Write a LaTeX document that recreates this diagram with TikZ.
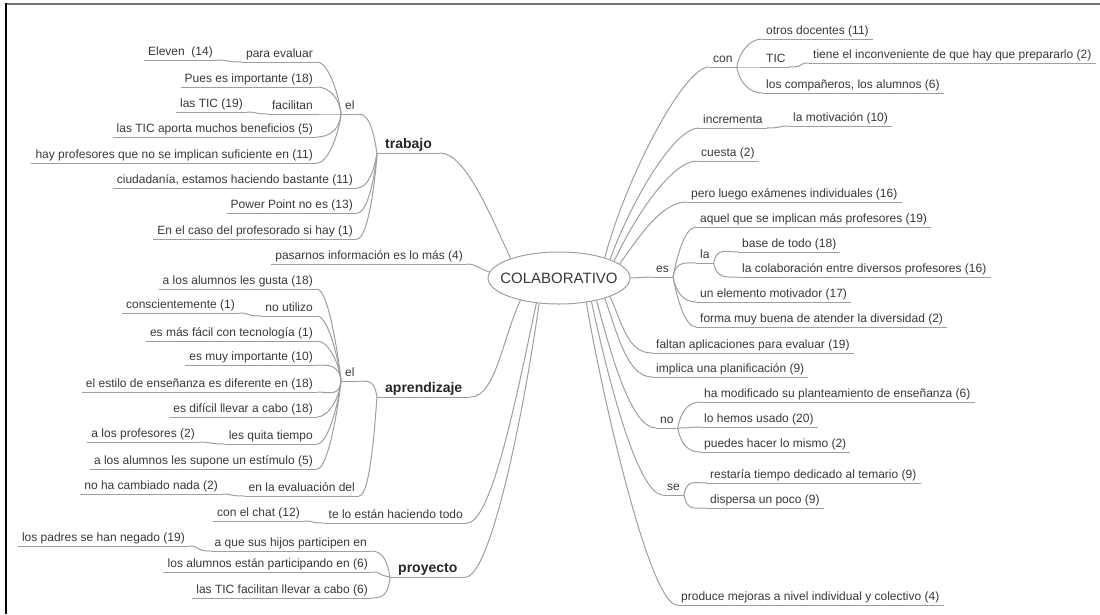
\documentclass[tikz,border=0pt]{standalone}
\usepackage{fontspec}
\setmainfont{Liberation Sans}
\usepackage{tikz}
\usetikzlibrary{shapes.geometric}

\definecolor{txtgray}{HTML}{383838}
\definecolor{linegray}{HTML}{9E9E9E}

\tikzset{
	txt/.style={inner xsep=4pt, inner ysep=1pt, text height=9pt, text depth=3pt, text=txtgray, font=\fontsize{12}{14}\selectfont},
	lft/.style={txt, anchor=south east},
	rgt/.style={txt, anchor=south west},
	topic/.style={txt, anchor=south west, inner xsep=8pt, text height=11pt, text=black!85, font=\fontsize{14}{16}\selectfont\bfseries},
	ln/.style={draw=linegray, line width=1pt},
	arm/.style={in distance=25pt},
	brl/.style={in=0, out distance=16pt, in distance=12pt},
	brr/.style={in=180, out distance=16pt, in distance=12pt},
}

\begin{document}
\begin{tikzpicture}[x=1pt, y=1pt]
			%%%%% START %%%%%
			\useasboundingbox (0,0) rectangle (1100,-614);
			\draw[line width=2pt, color=black!55] (6,-4) -- (1100,-4);
			\draw[line width=2pt, color=black] (6,-3) -- (6,-614);
			
			\node[ellipse, draw=linegray, line width=1pt, minimum width=142pt, minimum height=52pt, inner xsep=-9pt, inner ysep=0pt, text=txtgray, font=\fontsize{15}{17}\selectfont] (co) at (559,-278) {COLABORATIVO};
			
			% trabajo
			\node[topic] (tr) at (377,-153) {trabajo};
			\node[rgt] (el1) at (341,-114) {el};
			\node[lft] (pe) at (317,-62) {para evaluar};
			\node[lft] (ev1) at (217,-60) {Eleven\ \ (14)};
			\node[lft] (pu) at (317,-87) {Pues es importante (18)};
			\node[lft] (fa) at (317,-114) {facilitan};
			\node[lft] (lt) at (247,-112) {las TIC (19)};
			\node[lft] (ab) at (317,-137) {las TIC aporta muchos beneficios (5)};
			\node[lft] (hp) at (317,-163) {hay profesores que no se implican suficiente en (11)};
			\node[lft] (ci) at (357,-188) {ciudadanía, estamos haciendo bastante (11)};
			\node[lft] (pp) at (357,-213) {Power Point no es (13)};
			\node[lft] (ec) at (357,-239) {En el caso del profesorado si hay (1)};
			
			\node[lft] (pa) at (467,-264) {pasarnos información es lo más (4)};
			
			% aprendizaje
			\node[topic] (apz) at (377,-397) {aprendizaje};
			\node[rgt] (el2) at (341,-381) {el};
			\node[lft] (ag) at (317,-289) {a los alumnos les gusta (18)};
			\node[lft] (nu) at (317,-316) {no utilizo};
			\node[lft] (cs) at (239,-313) {conscientemente (1)};
			\node[lft] (ef) at (317,-341) {es más fácil con tecnología (1)};
			\node[lft] (mi) at (317,-365) {es muy importante (10)};
			\node[lft] (ee) at (317,-392) {el estilo de enseñanza es diferente en (18)};
			\node[lft] (ed) at (317,-417) {es difícil llevar a cabo (18)};
			\node[lft] (lq) at (317,-444) {les quita tiempo};
			\node[lft] (lp) at (199,-442) {a los profesores (2)};
			\node[lft] (as) at (317,-469) {a los alumnos les supone un estímulo (5)};
			\node[lft] (ev) at (359,-496) {en la evaluación del};
			\node[lft] (nc) at (222,-494) {no ha cambiado nada (2)};
			
			\node[lft] (te) at (467,-523) {te lo están haciendo todo};
			\node[lft] (ch) at (304,-521) {con el chat (12)};
			
			% proyecto
			\node[topic] (pr) at (390,-577) {proyecto};
			\node[lft] (aq) at (371,-551) {a que sus hijos participen en};
			\node[lft] (lpn) at (189,-546) {los padres se han negado (19)};
			\node[lft] (lap) at (372,-572) {los alumnos están participando en (6)};
			\node[lft] (lf) at (372,-598) {las TIC facilitan llevar a cabo (6)};
			
			% right side
			\node[rgt] (con) at (709,-67) {con};
			\node[rgt] (od) at (762,-39) {otros docentes (11)};
			\node[rgt] (ti) at (762,-67) {TIC};
			\node[rgt] (tn) at (809,-63) {tiene el inconveniente de que hay que prepararlo (2)};
			\node[rgt] (cp) at (762,-93) {los compañeros, los alumnos (6)};
			\node[rgt] (inc) at (699,-128) {incrementa};
			\node[rgt] (mo) at (789,-126) {la motivación (10)};
			\node[rgt] (cu) at (697,-161) {cuesta (2)};
			\node[rgt] (pl) at (687,-202) {pero luego exámenes individuales (16)};
			\node[rgt] (es) at (652,-277) {es};
			\node[rgt] (aqu) at (696,-227) {aquel que se implican más profesores (19)};
			\node[rgt] (la) at (696,-263) {la};
			\node[rgt] (bt) at (738,-252) {base de todo (18)};
			\node[rgt] (lc) at (738,-277) {la colaboración entre diversos profesores (16)};
			\node[rgt] (um) at (696,-302) {un elemento motivador (17)};
			\node[rgt] (fm) at (696,-327) {forma muy buena de atender la diversidad (2)};
			\node[rgt] (fap) at (652,-353) {faltan aplicaciones para evaluar (19)};
			\node[rgt] (ip) at (652,-377) {implica una planificación (9)};
			\node[rgt] (no) at (656,-428) {no};
			\node[rgt] (hm) at (700,-402) {ha modificado su planteamiento de enseñanza (6)};
			\node[rgt] (lh) at (700,-427) {lo hemos usado (20)};
			\node[rgt] (ph) at (700,-452) {puedes hacer lo mismo (2)};
			\node[rgt] (se) at (663,-495) {se};
			\node[rgt] (re) at (706,-483) {restaría tiempo dedicado al temario (9)};
			\node[rgt] (di) at (706,-508) {dispersa un poco (9)};
			\node[rgt] (pm) at (677,-605) {produce mejoras a nivel individual y colectivo (4)};
			
			% underlines
			\foreach \n in {tr,el1,pe,ev1,pu,fa,lt,ab,hp,ci,pp,ec,pa,apz,el2,ag,nu,cs,ef,mi,ee,ed,lq,lp,as,ev,nc,te,ch,pr,aq,lpn,lap,lf,
				con,od,ti,tn,cp,inc,mo,cu,pl,es,aqu,la,bt,lc,um,fm,fap,ip,no,hm,lh,ph,se,re,di,pm}
				\draw[ln] (\n.south west) -- (\n.south east);
			
			% arms from the centre
			\draw[ln] (co.158) to[arm, out=115, in=0] (tr.south east);
			\draw[ln] (co.175) to[out=165, in=0] (pa.south east);
			\draw[ln] (co.-150) to[arm, out=-115, in=0] (apz.south east);
			\draw[ln] (co.-132) to[arm, out=-102, in=0] (te.south east);
			\draw[ln] (co.-128) to[arm, out=-98, in=0] (pr.south east);
			\foreach \a/\c/\o in {24/con/75, 20/inc/70, 17/cu/65, 13/pl/55, -20/fap/-65, -24/ip/-70, -31/no/-75, -36/se/-78, -42/pm/-80}
				\draw[ln] (co.\a) to[arm, out=\o, in=180] (\c.south west);
			\draw[ln] (co.0) -- (es.south west);
			
			% left brackets
			\foreach \p/\c/\o in {tr/el1/100, tr/ci/-100, tr/pp/-95, tr/ec/-92,
				el1/pe/95, el1/pu/95, el1/fa/180, el1/ab/-95, el1/hp/-95, pe/ev1/180, fa/lt/180,
				apz/el2/100, apz/ev/-95,
				el2/ag/95, el2/nu/95, el2/ef/95, el2/mi/95, el2/ee/-95, el2/ed/-95, el2/lq/-95, el2/as/-95,
				nu/cs/180, lq/lp/180, ev/nc/180, te/ch/180,
				pr/aq/100, pr/lap/170, pr/lf/-95, aq/lpn/180}
				\draw[ln] (\p.south west) to[brl, out=\o] (\c.south east);
			
			% right brackets
			\foreach \p/\c/\o in {con/od/80, con/ti/0, con/cp/-80, ti/tn/0, inc/mo/0,
				es/aqu/80, es/la/80, es/um/-80, es/fm/-80, la/bt/80, la/lc/-80,
				no/hm/80, no/lh/0, no/ph/-80, se/re/80, se/di/-80}
				\draw[ln] (\p.south east) to[brr, out=\o] (\c.south west);
			
			%%%%% END %%%%%
\end{tikzpicture}
\end{document}
